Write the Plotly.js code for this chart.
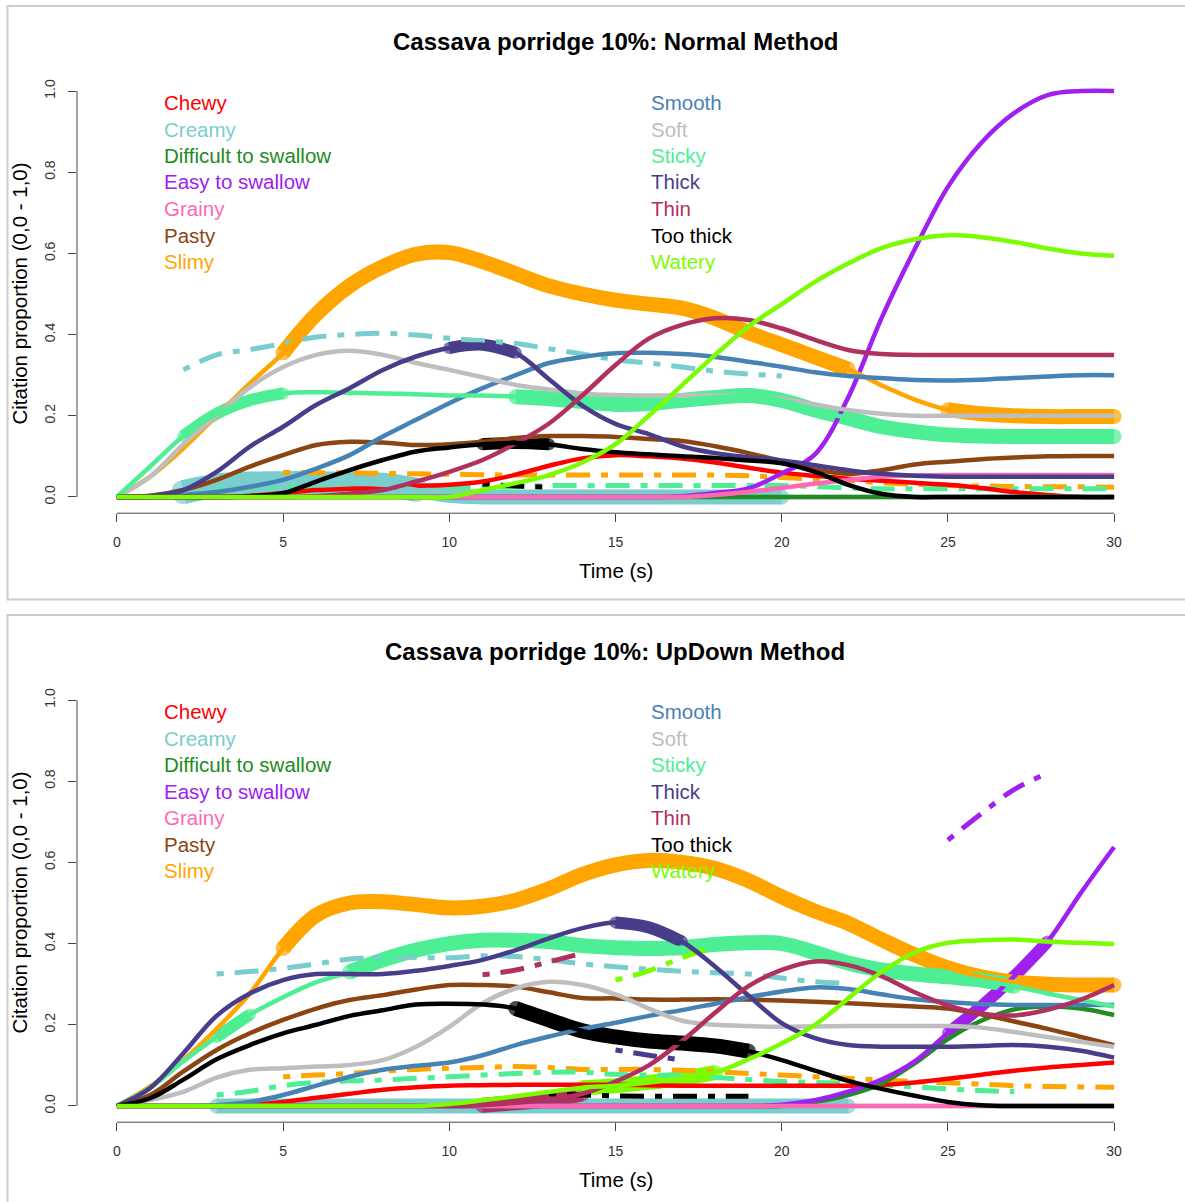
<!DOCTYPE html>
<html>
<head>
<meta charset="utf-8">
<script src="https://cdn.plot.ly/plotly-3.0.1.min.js"></script>
<style>
html,body{margin:0;padding:0;background:#ffffff;}
#chart{width:1185px;height:1202px;}
</style>
</head>
<body>
<div id="chart"></div>
<script>
// ---------------- DATA ----------------
const TIME = [0,1,2,3,4,5,6,7,8,9,10,11,12,13,14,15,16,17,18,19,20,21,22,23,24,25,26,27,28,29,30];
const X_TICKS = [0,5,10,15,20,25,30];
const Y_TICKS = [0,0.2,0.4,0.6,0.8,1.0];

const ATTRIBUTES = ["Chewy","Creamy","Difficult to swallow","Easy to swallow","Grainy","Pasty","Slimy",
                    "Smooth","Soft","Sticky","Thick","Thin","Too thick","Watery"];
const COLORS = ["#FF0000","#79CDCD","#228B22","#A020F0","#FF69B4","#8B4513","#FFA500",
                "#4682B4","#BEBEBE","#4EEE94","#483D8B","#B03060","#000000","#7CFC00"];

const TITLE_NORMAL = "Cassava porridge 10%: Normal Method";
const TITLE_UPDOWN = "Cassava porridge 10%: UpDown Method";
const X_TITLE = "Time (s)";
const Y_TITLE = "Citation proportion (0,0 - 1,0)";

// Normal method: citation proportions at each second
const N_CHEWY     = [0,0,0,0,0.003,0.01,0.017,0.02,0.023,0.027,0.03,0.038,0.055,0.077,0.095,0.103,0.1,0.095,0.085,0.072,0.06,0.052,0.045,0.04,0.035,0.03,0.022,0.012,0.005,0,0];
const N_CREAMY    = [0,0,0.012,0.028,0.033,0.034,0.034,0.033,0.03,0.018,0.004,0,0,0,0,0,0,0,0,0,0,0,0,0,0,0,0,0,0,0,0];
const N_DIFFICULT = [0,0,0,0,0,0,0,0,0,0,0,0,0,0,0,0,0,0,0,0,0,0,0,0,0,0,0,0,0,0,0];
const N_EASY      = [0,0,0,0,0,0,0,0,0,0,0,0,0,0,0,0,0,0.002,0.01,0.021,0.058,0.105,0.245,0.44,0.61,0.764,0.872,0.946,0.99,1.0,1.0];
const N_GRAINY    = [0,0,0,0,0,0,0,0,0,0,0,0,0,0,0,0,0,0,0.005,0.013,0.022,0.033,0.042,0.05,0.053,0.054,0.054,0.054,0.054,0.054,0.054];
const N_PASTY     = [0,0.003,0.017,0.042,0.075,0.103,0.128,0.136,0.134,0.128,0.13,0.136,0.145,0.15,0.15,0.148,0.143,0.138,0.125,0.108,0.088,0.068,0.057,0.066,0.08,0.087,0.093,0.097,0.1,0.101,0.101];
const N_SLIMY     = [0,0.05,0.12,0.2,0.28,0.355,0.45,0.52,0.567,0.598,0.602,0.58,0.55,0.52,0.5,0.485,0.475,0.465,0.44,0.405,0.375,0.345,0.315,0.275,0.24,0.215,0.205,0.2,0.198,0.198,0.198];
const N_SMOOTH    = [0,0,0.005,0.012,0.025,0.042,0.07,0.103,0.149,0.19,0.231,0.268,0.3,0.33,0.345,0.354,0.355,0.352,0.345,0.333,0.321,0.307,0.298,0.293,0.288,0.287,0.289,0.293,0.297,0.3,0.3];
const N_SOFT      = [0,0.05,0.13,0.2,0.27,0.32,0.35,0.36,0.35,0.33,0.313,0.295,0.276,0.265,0.255,0.251,0.25,0.25,0.25,0.25,0.242,0.228,0.214,0.205,0.2,0.2,0.2,0.2,0.2,0.2,0.2];
const N_STICKY    = [0,0.075,0.15,0.205,0.238,0.255,0.258,0.257,0.255,0.253,0.25,0.25,0.247,0.242,0.235,0.228,0.23,0.238,0.245,0.25,0.238,0.214,0.194,0.173,0.161,0.153,0.15,0.149,0.149,0.149,0.149];
const N_THICK     = [0,0.002,0.017,0.062,0.124,0.173,0.227,0.268,0.313,0.346,0.367,0.375,0.355,0.29,0.225,0.18,0.155,0.125,0.108,0.098,0.09,0.078,0.066,0.057,0.052,0.05,0.05,0.05,0.05,0.05,0.05];
const N_THIN      = [0,0,0,0,0,0,0.002,0.008,0.017,0.038,0.062,0.091,0.132,0.181,0.25,0.325,0.39,0.424,0.44,0.436,0.415,0.387,0.362,0.352,0.35,0.35,0.35,0.35,0.35,0.35,0.35];
const N_TOOTHICK  = [0,0,0,0,0.002,0.009,0.038,0.066,0.091,0.112,0.122,0.13,0.133,0.13,0.118,0.11,0.105,0.1,0.096,0.09,0.083,0.062,0.03,0.008,0,0,0,0,0,0,0];
const N_WATERY    = [0,0,0,0,0,0,0,0,0,0,0,0.017,0.034,0.054,0.085,0.13,0.2,0.275,0.35,0.42,0.475,0.53,0.575,0.613,0.635,0.645,0.64,0.628,0.612,0.6,0.594];

// Normal method: dashed series (start second, values)
const N_DASH_CREAMY_START = 2;
const N_DASH_CREAMY = [0.313,0.35,0.363,0.378,0.394,0.4,0.403,0.399,0.391,0.385,0.378,0.365,0.352,0.338,0.33,0.32,0.31,0.303,0.298];
const N_DASH_SLIMY_START = 5;
const N_DASH_SLIMY = [0.06,0.06,0.059,0.058,0.057,0.056,0.055,0.054,0.054,0.054,0.054,0.054,0.054,0.054,0.052,0.048,0.044,0.04,0.035,0.031,0.028,0.027,0.026,0.025,0.025,0.024];
const N_DASH_STICKY_START = 3;
const N_DASH_STICKY = [0.022,0.024,0.025,0.025,0.025,0.025,0.025,0.025,0.025,0.025,0.028,0.028,0.028,0.028,0.028,0.028,0.028,0.028,0.026,0.022,0.02,0.02,0.02,0.02,0.02,0.02,0.02,0.02];
const N_DASH_TOOTHICK_START = 11;
const N_DASH_TOOTHICK = [0.032,0.027,0.024];

// Normal method: emphasised stretches [attribute, from s, to s, level]
const N_EMPH = [["Creamy",2,9,3],["Creamy",9,20,2],["Slimy",5,22,2],["Slimy",25,30,2],
                ["Sticky",2,5,1],["Sticky",12,30,2],["Thick",10,12,1],["Too thick",11,13,1]];

// UpDown method
const U_CHEWY     = [0,0,0,0,0.003,0.01,0.02,0.03,0.04,0.046,0.05,0.051,0.052,0.052,0.052,0.052,0.051,0.05,0.05,0.05,0.05,0.05,0.05,0.052,0.058,0.067,0.077,0.087,0.095,0.101,0.107];
const U_CREAMY    = [0,0,0,0,0,0,0,0,0,0,0,0,0,0,0,0,0,0,0,0,0,0,0,0,0,0,0,0,0,0,0];
const U_DIFFICULT = [0,0,0,0,0,0,0,0,0,0,0,0,0,0,0,0,0,0,0,0,0,0.01,0.027,0.055,0.105,0.165,0.21,0.238,0.245,0.24,0.224];
const U_EASY      = [0,0,0,0,0,0,0,0,0,0,0,0,0,0,0,0,0,0,0,0,0.003,0.014,0.035,0.065,0.11,0.18,0.245,0.32,0.405,0.525,0.638];
const U_GRAINY    = [0,0,0,0,0,0,0,0,0,0,0,0,0,0,0,0,0,0,0,0,0,0,0,0,0,0,0,0,0,0,0];
const U_PASTY     = [0,0.027,0.085,0.138,0.179,0.212,0.24,0.261,0.273,0.287,0.298,0.298,0.294,0.28,0.266,0.265,0.262,0.262,0.263,0.262,0.26,0.257,0.253,0.249,0.245,0.24,0.226,0.208,0.19,0.17,0.15];
const U_SLIMY     = [0,0.048,0.113,0.19,0.277,0.388,0.47,0.5,0.503,0.496,0.488,0.492,0.507,0.535,0.57,0.594,0.605,0.6,0.585,0.555,0.515,0.48,0.45,0.41,0.372,0.34,0.318,0.305,0.3,0.298,0.298];
const U_SMOOTH    = [0,0,0,0.002,0.01,0.027,0.05,0.072,0.089,0.099,0.107,0.125,0.15,0.171,0.19,0.205,0.222,0.236,0.252,0.268,0.282,0.292,0.288,0.275,0.263,0.256,0.251,0.249,0.249,0.249,0.249];
const U_SOFT      = [0,0.015,0.035,0.07,0.089,0.093,0.097,0.101,0.113,0.146,0.195,0.253,0.29,0.306,0.298,0.275,0.24,0.21,0.2,0.197,0.195,0.196,0.197,0.197,0.197,0.197,0.193,0.182,0.17,0.158,0.146];
const U_STICKY    = [0,0.045,0.11,0.17,0.225,0.268,0.305,0.33,0.36,0.384,0.4,0.408,0.408,0.405,0.395,0.39,0.388,0.39,0.398,0.402,0.4,0.378,0.352,0.335,0.325,0.318,0.31,0.295,0.277,0.261,0.245];
const U_THICK     = [0,0.044,0.13,0.222,0.277,0.31,0.325,0.325,0.325,0.333,0.345,0.36,0.384,0.413,0.438,0.452,0.44,0.405,0.343,0.272,0.204,0.167,0.15,0.146,0.146,0.146,0.148,0.15,0.146,0.136,0.119];
const U_THIN      = [0,0,0,0,0,0,0,0,0,0,0,0.002,0.008,0.015,0.03,0.06,0.1,0.16,0.23,0.295,0.335,0.356,0.347,0.32,0.28,0.248,0.228,0.223,0.237,0.262,0.298];
const U_TOOTHICK  = [0,0.019,0.065,0.115,0.15,0.179,0.2,0.222,0.236,0.25,0.252,0.25,0.24,0.212,0.185,0.17,0.16,0.155,0.148,0.135,0.113,0.087,0.062,0.042,0.025,0.01,0.002,0,0,0,0];
const U_WATERY    = [0,0,0,0,0,0,0,0,0,0,0.005,0.014,0.024,0.035,0.045,0.05,0.058,0.068,0.082,0.115,0.154,0.2,0.265,0.33,0.378,0.402,0.408,0.41,0.405,0.402,0.399];

const U_DASH_CREAMY_START = 3;
const U_DASH_CREAMY = [0.325,0.331,0.339,0.35,0.362,0.366,0.366,0.365,0.37,0.368,0.36,0.35,0.343,0.337,0.332,0.328,0.325,0.315,0.306,0.302];
const U_DASH_EASY_START = 25;
const U_DASH_EASY = [0.655,0.72,0.78,0.82];
const U_DASH_SLIMY_START = 5;
const U_DASH_SLIMY = [0.072,0.076,0.08,0.086,0.09,0.093,0.095,0.097,0.095,0.09,0.09,0.09,0.088,0.084,0.08,0.076,0.072,0.068,0.064,0.06,0.057,0.054,0.05,0.048,0.047,0.046];
const U_DASH_STICKY_START = 3;
const U_DASH_STICKY = [0.027,0.036,0.05,0.058,0.062,0.064,0.068,0.072,0.076,0.08,0.083,0.083,0.078,0.076,0.075,0.07,0.065,0.06,0.058,0.056,0.052,0.047,0.042,0.038,0.035];
const U_DASH_THICK_START = 15;
const U_DASH_THICK = [0.138,0.125,0.113];
const U_DASH_THIN_START = 11;
const U_DASH_THIN = [0.323,0.335,0.355,0.376];
const U_DASH_TOOTHICK_START = 13;
const U_DASH_TOOTHICK = [0.03,0.027,0.025,0.024,0.024,0.024,0.024];
const U_DASH_WATERY_START = 15;
const U_DASH_WATERY = [0.31,0.333,0.365,0.393];

const U_EMPH = [["Creamy",3,22,2],["Easy to swallow",25,28,1],["Slimy",5,30,2],["Sticky",3,4,1],
                ["Sticky",7,27,2],["Thick",15,17,1],["Thin",11,14,2],["Too thick",12,19,2],["Watery",14,18,2]];

// ---------------- BUILD ----------------
const W = 1185, H = 1202;
const FONT = "Liberation Sans, Arial, Helvetica, sans-serif";
const px = v => v / W;
const py = v => 1 - v / H;
const THIN_W = 4.5;
const DASH_W = 5;
const EMPH_W = {1: 12, 2: 15, 3: 24};
const DASH_PATTERN = "7px,11px,24px,11px";

const N_SERIES = [N_CHEWY,N_CREAMY,N_DIFFICULT,N_EASY,N_GRAINY,N_PASTY,N_SLIMY,N_SMOOTH,N_SOFT,N_STICKY,N_THICK,N_THIN,N_TOOTHICK,N_WATERY];
const U_SERIES = [U_CHEWY,U_CREAMY,U_DIFFICULT,U_EASY,U_GRAINY,U_PASTY,U_SLIMY,U_SMOOTH,U_SOFT,U_STICKY,U_THICK,U_THIN,U_TOOTHICK,U_WATERY];
const N_DASHED = [["Creamy",N_DASH_CREAMY_START,N_DASH_CREAMY],["Slimy",N_DASH_SLIMY_START,N_DASH_SLIMY],
                  ["Sticky",N_DASH_STICKY_START,N_DASH_STICKY],["Too thick",N_DASH_TOOTHICK_START,N_DASH_TOOTHICK]];
const U_DASHED = [["Creamy",U_DASH_CREAMY_START,U_DASH_CREAMY],["Easy to swallow",U_DASH_EASY_START,U_DASH_EASY],
                  ["Slimy",U_DASH_SLIMY_START,U_DASH_SLIMY],["Sticky",U_DASH_STICKY_START,U_DASH_STICKY],
                  ["Thick",U_DASH_THICK_START,U_DASH_THICK],["Thin",U_DASH_THIN_START,U_DASH_THIN],
                  ["Too thick",U_DASH_TOOTHICK_START,U_DASH_TOOTHICK],["Watery",U_DASH_WATERY_START,U_DASH_WATERY]];

function panelTraces(series, dashed, emph, xa, ya) {
  const traces = [];
  // emphasised (thick) stretches
  emph.forEach(([attr, a, b, lvl]) => {
    const i = ATTRIBUTES.indexOf(attr);
    const xs = TIME.slice(a, b + 1);
    const ys = series[i].slice(a, b + 1);
    const w = EMPH_W[lvl];
    traces.push({
      type: "scatter", mode: "lines+markers", x: xs, y: ys, xaxis: xa, yaxis: ya,
      line: {color: COLORS[i], width: w, shape: "spline"},
      marker: {color: COLORS[i], size: xs.map((_, k) => (k === 0 || k === xs.length - 1) ? w : 0), line: {width: 0}},
      hoverinfo: "skip"
    });
  });
  // dashed series
  dashed.forEach(([attr, start, vals]) => {
    const i = ATTRIBUTES.indexOf(attr);
    traces.push({
      type: "scatter", mode: "lines", x: TIME.slice(start, start + vals.length), y: vals,
      xaxis: xa, yaxis: ya,
      line: {color: COLORS[i], width: DASH_W, dash: DASH_PATTERN, shape: "spline"},
      hoverinfo: "skip"
    });
  });
  // base curves
  series.forEach((vals, i) => {
    traces.push({
      type: "scatter", mode: "lines", x: TIME, y: vals, xaxis: xa, yaxis: ya,
      line: {color: COLORS[i], width: THIN_W, shape: "spline"},
      hoverinfo: "skip"
    });
  });
  return traces;
}

const data = [].concat(
  panelTraces(N_SERIES, N_DASHED, N_EMPH, "x", "y"),
  panelTraces(U_SERIES, U_DASHED, U_EMPH, "x2", "y2")
);

function xAxisDef(anchor, domain) {
  return {
    domain: domain, range: [-1.2, 31.2], anchor: anchor,
    tickmode: "array", tickvals: X_TICKS, ticks: "outside", ticklen: 8, tickwidth: 1, tickcolor: "#444",
    showgrid: false, zeroline: false, showline: false, fixedrange: true,
    tickfont: {family: FONT, size: 14, color: "#333"}, ticklabelstandoff: 8
  };
}
function yAxisDef(anchor, domain) {
  return {
    domain: domain, range: [-0.04, 1.04], anchor: anchor,
    tickmode: "array", tickvals: Y_TICKS, tickformat: ".1f", tickangle: -90,
    ticks: "outside", ticklen: 8, tickwidth: 1, tickcolor: "#444",
    showgrid: false, zeroline: false, showline: false, fixedrange: true,
    tickfont: {family: FONT, size: 14, color: "#333"}, ticklabelstandoff: 7
  };
}

const XDOM = [px(77), px(1154)];
const layout = {
  width: W, height: H, margin: {l: 0, r: 0, t: 0, b: 0},
  paper_bgcolor: "#ffffff", plot_bgcolor: "rgba(0,0,0,0)",
  showlegend: false, hovermode: false,
  xaxis: xAxisDef("y", XDOM),
  yaxis: yAxisDef("x", [py(513.2), py(74.8)]),
  xaxis2: xAxisDef("y2", XDOM),
  yaxis2: yAxisDef("x2", [py(1122.2), py(683.8)]),
  shapes: [],
  annotations: []
};

// panel borders
layout.shapes.push({type: "rect", xref: "paper", yref: "paper", layer: "below",
  x0: px(7.5), x1: 1.02, y0: py(599.5), y1: py(6), line: {color: "#cccccc", width: 2}});
layout.shapes.push({type: "rect", xref: "paper", yref: "paper", layer: "below",
  x0: px(7.5), x1: 1.02, y0: -0.02, y1: py(615), line: {color: "#cccccc", width: 2}});

// axis lines spanning first to last tick
[["x","y"],["x2","y2"]].forEach(([xa, ya]) => {
  layout.shapes.push({type: "line", xref: xa, yref: ya + " domain", x0: X_TICKS[0], x1: X_TICKS[X_TICKS.length-1], y0: 0, y1: 0,
    line: {color: "#444", width: 1}});
  layout.shapes.push({type: "line", xref: xa + " domain", yref: ya, x0: 0, x1: 0, y0: Y_TICKS[0], y1: Y_TICKS[Y_TICKS.length-1],
    line: {color: "#444", width: 1}});
});

// titles, axis titles and text legend for both panels
[[TITLE_NORMAL, 0, "x", "y"], [TITLE_UPDOWN, 609, "x2", "y2"]].forEach(([title, off, xa, ya]) => {
  layout.annotations.push({text: title, xref: "paper", yref: "paper", x: px(615), y: py(42 + off),
    xanchor: "center", yanchor: "middle", showarrow: false,
    font: {family: FONT, size: 24, color: "#000", weight: "bold"}});
  layout.annotations.push({text: X_TITLE, xref: "paper", yref: "paper", x: px(615.5), y: py(570.5 + off),
    xanchor: "center", yanchor: "middle", showarrow: false,
    font: {family: FONT, size: 20.5, color: "#000"}});
  layout.annotations.push({text: Y_TITLE, xref: "paper", yref: ya, x: px(18.5), y: 0.5, textangle: -90,
    xanchor: "center", yanchor: "middle", showarrow: false,
    font: {family: FONT, size: 20.5, color: "#000"}});
  ATTRIBUTES.forEach((name, i) => {
    const col = i < 7 ? 0 : 1;
    const row = i % 7;
    layout.annotations.push({text: name, xref: "paper", yref: "paper",
      x: px(col === 0 ? 162 : 648.5), y: py(102.5 + 26.5 * row + off),
      xanchor: "left", yanchor: "middle", showarrow: false,
      font: {family: FONT, size: 20.5, color: COLORS[i]}});
  });
});

Plotly.newPlot("chart", data, layout, {staticPlot: true, displayModeBar: false});
</script>
</body>
</html>
